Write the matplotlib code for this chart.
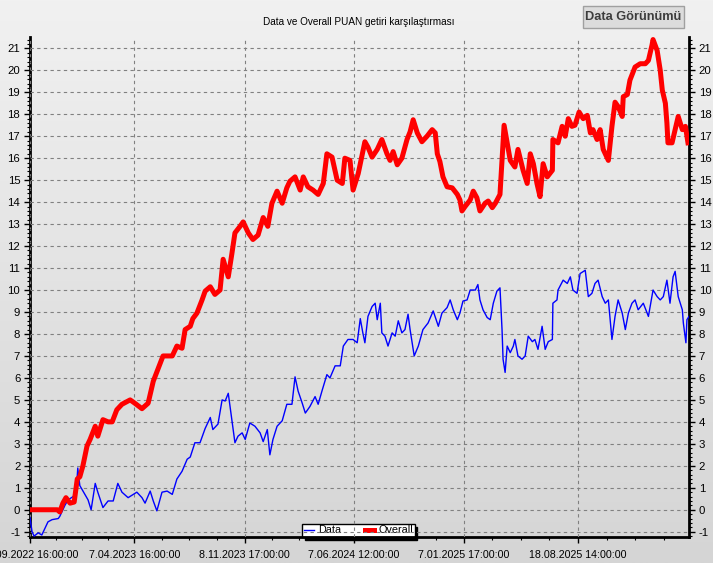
import numpy as np
import matplotlib
matplotlib.use("Agg")
import matplotlib.pyplot as plt
from matplotlib.patches import Rectangle
from matplotlib.ticker import AutoMinorLocator, FixedLocator
from datetime import datetime

plt.rcParams['font.family'] = ['Liberation Sans', 'DejaVu Sans']
plt.rcParams['axes.unicode_minus'] = False

# zaman ekseni: baslangictan itibaren gun
start = datetime(2022, 9, 16, 16, 0, 0)
end_day = 1283

tick_labels = ["16.09.2022 16:00:00", "7.04.2023 16:00:00", "8.11.2023 17:00:00",
               "7.06.2024 12:00:00", "7.01.2025 17:00:00", "18.08.2025 14:00:00"]

# Overall (kirmizi)
overall_day = [0, 53, 58, 64, 70, 78, 86, 92, 97, 103, 111, 117, 127, 132, 142, 152, 160, 169, 179,
               195, 204, 218, 230, 240, 249, 259, 277, 286, 296, 302, 312, 317, 325, 335, 341, 351,
               360, 370, 376, 386, 393, 399, 409, 415, 425, 434, 444, 454, 463, 471, 481, 491, 500,
               506, 516, 526, 532, 541, 551, 561, 571, 578, 588, 598, 608, 613, 623, 629, 639, 647,
               652, 658, 666, 676, 685, 695, 701, 707, 715, 724, 734, 740, 746, 754, 763, 773, 783,
               789, 793, 798, 804, 812, 822, 832, 837, 841, 847, 857, 863, 870, 876, 886, 892, 900,
               906, 915, 919, 923, 929, 935, 944, 950, 960, 968, 974, 980, 987, 993, 999, 1007, 1017,
               1018, 1028, 1036, 1042, 1048, 1055, 1061, 1069, 1077, 1085, 1091, 1096, 1104, 1110,
               1116, 1126, 1133, 1139, 1145, 1153, 1155, 1163, 1168, 1178, 1188, 1198, 1204, 1211,
               1213, 1221, 1227, 1231, 1237, 1240, 1242, 1250, 1256, 1262, 1270, 1276, 1281]
overall_val = [0, 0, -0.1, 0.3, 0.55, 0.3, 0.35, 1.4, 1.5, 2.0, 2.9, 3.2, 3.8, 3.35, 4.1, 4.0, 4.0,
               4.55, 4.8, 5.0, 4.85, 4.6, 4.85, 5.85, 6.4, 7.0, 7.0, 7.45, 7.35, 8.2, 8.35, 8.7, 8.95,
               9.55, 9.95, 10.15, 9.8, 10.0, 11.4, 10.6, 11.65, 12.6, 12.9, 13.1, 12.6, 12.3, 12.5,
               13.3, 12.9, 13.95, 14.5, 13.95, 14.65, 14.95, 15.15, 14.55, 15.15, 14.7, 14.55, 14.35,
               14.85, 16.2, 16.05, 15.0, 14.85, 16.0, 15.9, 14.55, 15.3, 16.2, 16.75, 16.5, 16.05,
               16.4, 16.85, 16.2, 15.9, 16.3, 15.7, 16.0, 16.85, 17.2, 17.75, 17.15, 16.75, 17.0,
               17.3, 17.15, 16.2, 15.85, 15.15, 14.7, 14.65, 14.35, 14.1, 13.6, 13.8, 14.1, 14.5,
               14.2, 13.6, 13.95, 14.05, 13.75, 13.95, 14.35, 15.9, 17.5, 16.7, 15.9, 15.6, 16.4,
               15.45, 14.85, 16.2, 15.75, 14.85, 14.25, 15.75, 15.15, 15.45, 16.85, 16.7, 17.45,
               17.0, 17.8, 17.45, 17.5, 18.1, 17.8, 17.95, 17.15, 17.3, 16.85, 17.3, 16.4, 15.9,
               17.45, 18.55, 18.35, 17.9, 18.8, 18.9, 19.55, 20.15, 20.3, 20.3, 20.45, 21.15, 21.4,
               20.9, 20.0, 19.1, 18.5, 17.6, 16.7, 16.7, 17.3, 17.9, 17.3, 17.45, 16.7]

# Data (mavi)
data_day = [0, 4, 8, 16, 23, 29, 35, 43, 55, 58, 68, 74, 84, 90, 93, 97, 107, 113, 119, 127, 132,
            142, 152, 162, 171, 179, 191, 208, 218, 224, 234, 240, 247, 257, 267, 277, 286, 296,
            306, 312, 321, 331, 341, 351, 356, 366, 374, 380, 386, 393, 399, 405, 413, 419, 428,
            438, 448, 454, 462, 467, 473, 481, 491, 500, 510, 516, 522, 530, 536, 545, 555, 561,
            569, 578, 584, 594, 604, 610, 619, 629, 637, 643, 648, 652, 658, 666, 672, 676, 682,
            685, 691, 697, 705, 711, 717, 724, 730, 736, 740, 748, 756, 765, 775, 785, 795, 802,
            812, 818, 824, 832, 837, 843, 851, 857, 867, 872, 876, 882, 890, 896, 902, 909, 915,
            919, 921, 925, 929, 935, 941, 944, 950, 958, 964, 970, 978, 983, 989, 997, 1003, 1009,
            1017, 1018, 1026, 1028, 1038, 1046, 1052, 1057, 1065, 1071, 1081, 1087, 1094, 1100,
            1106, 1114, 1120, 1126, 1130, 1133, 1139, 1145, 1153, 1159, 1165, 1172, 1178, 1184,
            1194, 1204, 1213, 1221, 1227, 1233, 1240, 1246, 1252, 1256, 1262, 1270, 1272, 1277,
            1279, 1283]
data_val = [-0.35, -1.0, -1.2, -1.05, -1.15, -0.85, -0.55, -0.45, -0.4, -0.3, 0.2, 0.45, 0.6, 0.8,
            1.9, 1.1, 0.7, 0.45, 0.0, 1.2, 0.8, 0.1, 0.4, 0.4, 1.2, 0.8, 0.55, 0.8, 0.55, 0.3, 0.85,
            0.4, -0.05, 0.8, 0.85, 0.7, 1.4, 1.75, 2.3, 2.4, 3.05, 3.05, 3.7, 4.2, 3.65, 3.9, 5.0,
            4.95, 5.3, 4.1, 3.05, 3.35, 3.5, 3.2, 3.95, 3.8, 3.5, 3.1, 3.65, 2.5, 3.2, 3.8, 4.05,
            4.8, 4.8, 6.05, 5.4, 4.85, 4.4, 4.7, 5.15, 4.8, 5.45, 6.15, 6.0, 6.55, 6.55, 7.45, 7.75,
            7.75, 7.6, 8.7, 8.05, 7.6, 8.8, 9.25, 9.4, 8.65, 9.4, 8.05, 7.9, 7.45, 8.05, 7.9, 8.6,
            8.05, 8.2, 8.9, 8.2, 7.0, 7.45, 8.2, 8.5, 9.05, 8.35, 8.95, 9.2, 9.55, 9.1, 8.65, 8.95,
            9.5, 9.55, 10.0, 10.0, 10.25, 9.55, 9.1, 8.75, 8.65, 9.4, 9.95, 10.1, 8.2, 6.85, 6.25,
            7.45, 7.15, 7.45, 7.75, 7.0, 6.85, 7.0, 7.9, 7.65, 7.75, 7.3, 8.35, 7.3, 7.65, 7.75,
            9.4, 9.55, 10.0, 10.45, 10.3, 10.6, 10.0, 9.85, 10.75, 10.9, 9.7, 9.85, 10.3, 10.45,
            9.7, 9.4, 9.55, 8.5, 7.75, 8.8, 9.55, 8.95, 8.2, 8.95, 9.4, 9.55, 9.1, 9.4, 8.8, 10.0,
            9.7, 9.55, 9.7, 10.45, 9.4, 10.6, 10.85, 9.7, 9.1, 8.5, 7.6, 8.65, 8.8]

tick_days = [(datetime.strptime(t, "%d.%m.%Y %H:%M:%S") - start).total_seconds() / 86400
             for t in tick_labels]

W, H = 713, 563
fig = plt.figure(figsize=(W / 100, H / 100), dpi=100)

# arka plan gradyani
bg = fig.add_axes([0, 0, 1, 1], zorder=-10)
grad = np.linspace(0, 1, 256).reshape(-1, 1)
top_c = np.array([241, 241, 241]) / 255
bot_c = np.array([213, 213, 213]) / 255
img = top_c[None, None, :] * (1 - grad[:, :, None]) + bot_c[None, None, :] * grad[:, :, None]
bg.imshow(img, aspect='auto', extent=[0, 1, 0, 1])
bg.axis('off')

ax = fig.add_axes([30 / W, 1 - 537 / H, (689 - 30) / W, (537 - 36.7) / H])
ax.patch.set_alpha(0)

ax.plot(data_day, data_val, color='#0000ff', lw=1.0, zorder=4, label='Data')
ax.plot(overall_day, overall_val, color='#ff0000', lw=3.6, zorder=5, label='Overall')

ax.set_xlim(0, end_day)
ax.set_ylim(-1.24, 21.53)

ax.set_xticks(tick_days)
ax.set_xticklabels(tick_labels)
minors = []
for a, b in zip(tick_days[:-1], tick_days[1:]):
    minors += list(np.linspace(a, b, 5)[1:-1])
minors += list(tick_days[-1] + np.arange(1, 5) * (tick_days[-1] - tick_days[-2]) / 4)
ax.xaxis.set_minor_locator(FixedLocator([m for m in minors if m <= end_day]))

ax.set_yticks(range(-1, 22))
ax.yaxis.set_minor_locator(AutoMinorLocator(5))
ax.tick_params(axis='y', which='both', left=True, right=True, labelleft=True, labelright=True)
ax.tick_params(which='major', length=4, width=1, colors='black', pad=3)
ax.tick_params(which='minor', length=2.5, width=0.8)
ax.tick_params(axis='y', labelsize=8.2)
ax.tick_params(axis='x', labelsize=7.7, pad=5)

ax.set_axisbelow(False)
ax.grid(True, which='major', color='#808080', linestyle=(0, (3, 3)), linewidth=0.8)

for s in ['left', 'right', 'bottom']:
    ax.spines[s].set_linewidth(2)
    ax.spines[s].set_color('black')
ax.spines['top'].set_visible(False)

leg = ax.legend(loc='lower center', bbox_to_anchor=(0.4985, 0.0), ncol=2, fontsize=7.8,
                frameon=True, fancybox=False, shadow={'color': 'black', 'alpha': 1},
                handlelength=0.9, handletextpad=0.35, columnspacing=2.2, borderpad=0.15,
                borderaxespad=0)
leg.get_frame().set_edgecolor('black')
leg.get_frame().set_linewidth(1)
leg.get_frame().set_facecolor('white')
leg.get_frame().set_alpha(1)
leg.set_zorder(2)

fig.text(359 / W, 1 - 22 / H, "Data ve Overall PUAN getiri karşılaştırması",
         ha='center', va='center', fontsize=7.2)

# buton
fig.patches.append(Rectangle((583 / W, 1 - 28 / H), 101 / W, 22 / H, transform=fig.transFigure,
                             facecolor='#dcdcdc', edgecolor='#a0a0a0', linewidth=1))
fig.text(633.5 / W, 1 - 17 / H, "Data Görünümü", ha='center', va='center',
         fontsize=9.2, fontweight='bold', color='#3c3c3c')

fig.savefig("out.png", dpi=100)
